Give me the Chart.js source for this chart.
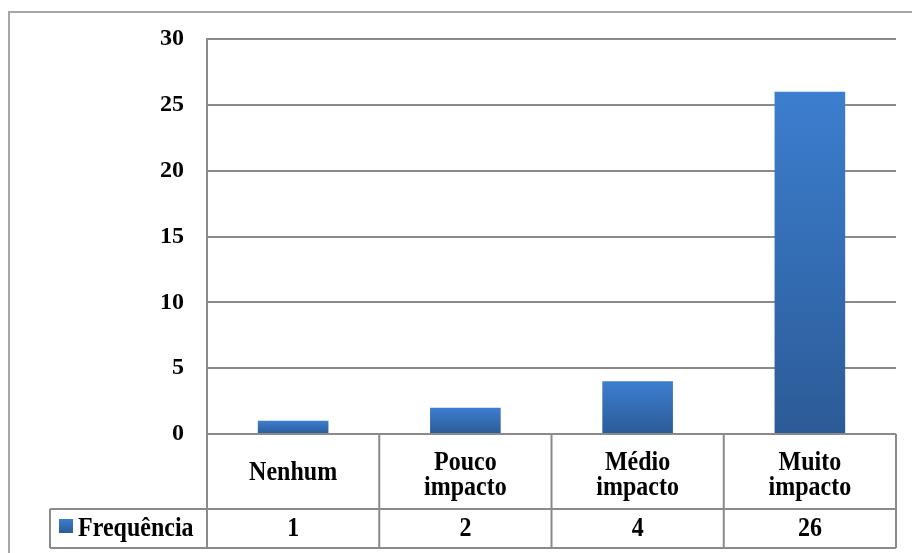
<!DOCTYPE html>
<html>
<head>
<meta charset="utf-8">
<script src="https://cdn.jsdelivr.net/npm/chart.js@4/dist/chart.umd.min.js"></script>
<style>
  html, body { margin: 0; padding: 0; background: #fff; }
  #wrap { width: 912px; height: 553px; position: relative; }
</style>
</head>
<body>
<div id="wrap"><canvas id="c" width="912" height="553"></canvas></div>
<script>
// ---- data ----
const categoryLines = [['Nenhum'], ['Pouco', 'impacto'], ['Médio', 'impacto'], ['Muito', 'impacto']];
const categories = categoryLines.map(l => l.join(' '));
const seriesName = 'Frequência';
const frequencia = [1, 2, 4, 26];
const yTicks = [0, 5, 10, 15, 20, 25, 30];

const FONT = 'bold 24px "Liberation Serif", "Times New Roman", serif';
const LINE = '#8a8a8a';
const TOP_BLUE = '#3c7ecf';
const BOT_BLUE = '#2c5b97';

function barGradient(ctx) {
  const chart = ctx.chart;
  const ys = chart.scales.y;
  if (!ys || !chart.chartArea) return TOP_BLUE;
  const v = ctx.raw != null ? ctx.raw : 0;
  const top = ys.getPixelForValue(v);
  const base = ys.getPixelForValue(0);
  if (!isFinite(top) || !isFinite(base) || top === base) return TOP_BLUE;
  const g = chart.ctx.createLinearGradient(0, top, 0, base);
  g.addColorStop(0, TOP_BLUE);
  g.addColorStop(1, BOT_BLUE);
  return g;
}

function stretchText(c, t, x, y) {
  c.save();
  c.translate(x, y);
  c.scale(1, 1.1);
  c.fillText(t, 0, 0);
  c.restore();
}

const tablePlugin = {
  id: 'dataTable',
  beforeDraw(chart) {
    const c = chart.ctx;
    c.save();
    c.strokeStyle = '#a6a6a6';
    c.lineWidth = 2;
    c.strokeRect(9, 12, 1000, 1000);
    c.restore();
  },
  afterDraw(chart) {
    const c = chart.ctx;
    const xs = chart.scales.x;
    const area = chart.chartArea;
    const top = area.bottom;
    const row1 = 509;
    const row2 = 548;
    const legendLeft = 50;
    const n = categories.length;
    const half = (xs.getPixelForValue(1) - xs.getPixelForValue(0)) / 2;
    c.save();
    c.strokeStyle = LINE;
    c.lineWidth = 2;
    c.beginPath();
    c.moveTo(legendLeft, row1); c.lineTo(area.right, row1);
    c.moveTo(legendLeft, row2); c.lineTo(area.right, row2);
    c.moveTo(legendLeft, row1); c.lineTo(legendLeft, row2);
    c.moveTo(area.left, top); c.lineTo(area.left, row2);
    for (let i = 0; i < n; i++) {
      const xr = xs.getPixelForValue(i) + half;
      c.moveTo(xr, top); c.lineTo(xr, row2);
    }
    c.stroke();

    c.fillStyle = '#000';
    c.font = FONT;
    c.textAlign = 'center';
    c.textBaseline = 'alphabetic';
    const lh = 25;
    for (let i = 0; i < n; i++) {
      const x = xs.getPixelForValue(i);
      const lines = categoryLines[i];
      const base = lines.length === 1 ? 480 : 470;
      lines.forEach((t, k) => stretchText(c, t, x, base + k * lh));
      stretchText(c, String(frequencia[i]), x, 536);
    }
    const g = c.createLinearGradient(0, 519, 0, 533);
    g.addColorStop(0, TOP_BLUE);
    g.addColorStop(1, BOT_BLUE);
    c.fillStyle = g;
    c.fillRect(59, 519, 14, 14);
    c.fillStyle = '#000';
    c.textAlign = 'left';
    stretchText(c, seriesName, 78, 536);
    c.restore();
  }
};

new Chart(document.getElementById('c'), {
  type: 'bar',
  data: {
    labels: categories,
    datasets: [{
      label: seriesName,
      data: frequencia,
      backgroundColor: barGradient,
      borderWidth: 0,
      categoryPercentage: 1,
      barPercentage: 0.41
    }]
  },
  options: {
    responsive: false,
    animation: false,
    devicePixelRatio: 1,
    layout: { padding: { left: 0, right: 16, top: 39, bottom: 0 } },
    plugins: { legend: { display: false }, tooltip: { enabled: false } },
    scales: {
      x: {
        display: true,
        grid: { display: false, drawTicks: false },
        border: { display: false },
        ticks: { display: false },
        afterFit: s => { s.height = 119; }
      },
      y: {
        min: 0,
        max: 30,
        afterBuildTicks: s => { s.ticks = yTicks.map(v => ({ value: v })); },
        afterFit: s => { s.width = 207; },
        grid: { color: LINE, lineWidth: 2, drawTicks: false },
        border: { display: true, color: LINE, width: 2 },
        ticks: {
          padding: 23,
          color: '#000',
          font: { family: '"Liberation Serif", "Times New Roman", serif', size: 24, weight: 'bold' }
        }
      }
    }
  },
  plugins: [tablePlugin]
});
</script>
</body>
</html>
